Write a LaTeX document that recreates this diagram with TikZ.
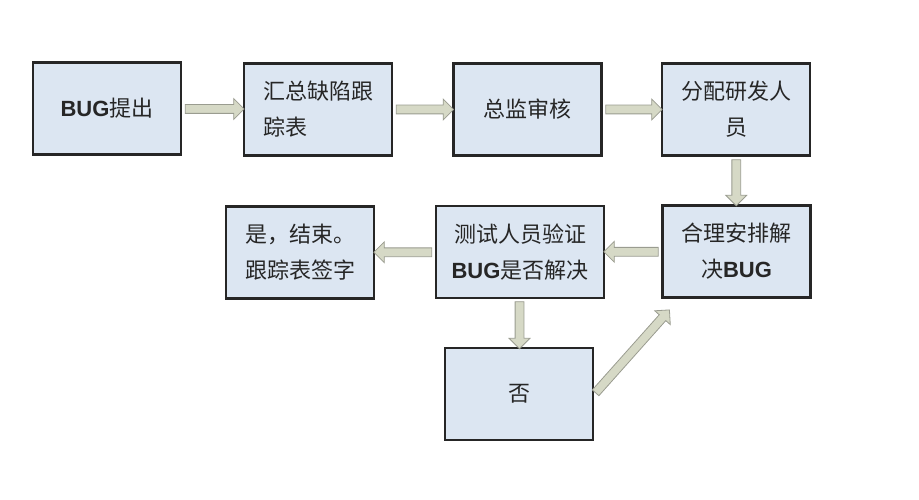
\documentclass[tikz,border=0pt]{standalone}
\usepackage{fontspec}
\usetikzlibrary{shapes.arrows,calc}
\newfontfamily\cjk{Noto Sans CJK SC}
\newfontfamily\lat{Liberation Sans}
\definecolor{boxfill}{HTML}{DCE6F2}
\definecolor{arrfill}{HTML}{D6D9C6}
\definecolor{arrline}{HTML}{9A9C90}
\newcommand\bg{{\lat\bfseries BUG}}
\begin{document}
\begin{tikzpicture}[x=1pt,y=-1pt,
  box/.style={draw=black!85,line width=2.2pt,fill=boxfill,minimum width=148pt,minimum height=92pt,
    font=\cjk\fontsize{22}{36}\selectfont,text=black!85,inner sep=2pt},
  barr/.style={single arrow,draw=arrline,fill=arrfill,line width=0.8pt,text height=4pt,text depth=4pt,text width=0pt,
    single arrow head extend=6pt,single arrow head indent=0pt,inner sep=0pt}]
\useasboundingbox (0,0) rectangle (919,500);
\node[box] (b1) at (107,108.5) {\bg 提出};
\node[box,align=left] (b2) at (318,109.5) {汇总缺陷跟\\踪表};
\node[box] (b3) at (527.5,109.5) {总监审核};
\node[box,align=center] (b4) at (736,109.5) {分配研发人\\员};
\node[box,align=left] (b5) at (300,252.5) {是，结束。\\跟踪表签字};
\node[box,minimum width=168pt,align=center] (b6) at (520,252) {测试人员验证\\\bg 是否解决};
\node[box,align=center] (b7) at (736.5,251.5) {合理安排解\\决\bg};
\node[box] (b8) at (519,394) {否};
\foreach \a/\b in {b1/b2,b2/b3,b3/b4}{
  \path let \p1=(\a.east),\p2=(\b.west) in
    node[barr,minimum height=\x2-\x1-2pt] at ($(\p1)!0.5!(\p2)$) {};}
\path let \p1=(b7.west),\p2=(b6.east) in
  node[barr,rotate=180,minimum height=\x1-\x2-2pt] (a1) at ($(\p1)!0.5!(\p2)$) {};
\path let \p1=(b6.west),\p2=(b5.east) in
  node[barr,rotate=180,minimum height=\x1-\x2-2pt] (a2) at ($(\p1)!0.5!(\p2)$) {};
\node[barr,rotate=-90,minimum height=46pt] (a3) at ($(b4.south)!0.5!(b7.north)$) {};
\node[barr,rotate=-90,minimum height=47pt] (a4) at ($(b6.south)!0.5!(b8.north)$) {};
\coordinate (d1) at (b8.east);
\coordinate (d2) at (668,312);
\node[barr,rotate=48.3,minimum height=111pt] (a5) at ($(d1)!0.5!(d2)$) {};
\end{tikzpicture}
\end{document}
